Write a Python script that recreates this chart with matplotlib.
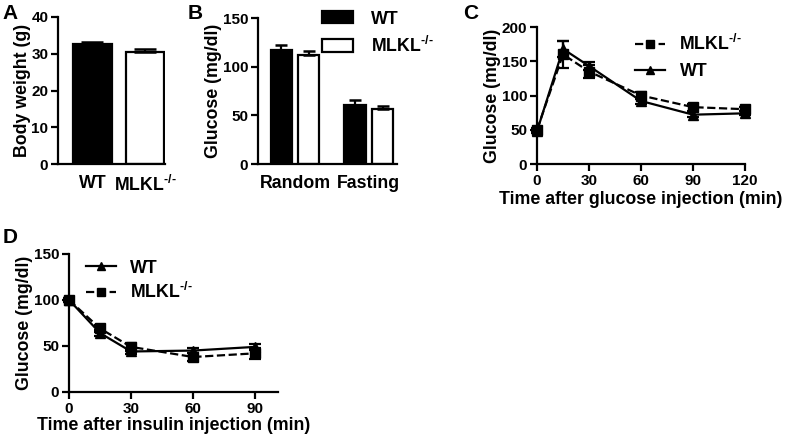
import numpy as np
import matplotlib
matplotlib.use('Agg')
import matplotlib.pyplot as plt
from matplotlib.patches import Patch
from matplotlib.lines import Line2D

plt.rcParams['font.family'] = ['Liberation Sans', 'DejaVu Sans']
plt.rcParams['font.weight'] = 'bold'
plt.rcParams['mathtext.fontset'] = 'custom'
plt.rcParams['mathtext.rm'] = 'Liberation Sans:bold'
plt.rcParams['mathtext.bf'] = 'Liberation Sans:bold'
plt.rcParams['axes.linewidth'] = 1.6

# data
groups_a = ['WT', r'MLKL$^{\text{-/-}}$']
weight = [32.7, 30.5]
weight_err = [0.6, 0.7]

groups_b = ['Random', 'Fasting']
glu_wt = [117, 61]
glu_wt_err = [5, 5]
glu_ko = [112, 57]
glu_ko_err = [4, 3]

t_gtt = [0, 15, 30, 60, 90, 120]
gtt_wt = [48, 168, 143, 92, 72, 74]
gtt_wt_err = [3, 12, 6, 4, 4, 3]
gtt_ko = [50, 160, 135, 100, 83, 80]
gtt_ko_err = [3, 20, 10, 5, 5, 3]

t_itt = [0, 15, 30, 60, 90]
itt_wt = [100, 64, 44, 45, 49]
itt_wt_err = [2, 3, 3, 3, 3]
itt_ko = [100, 69, 49, 38, 42]
itt_ko_err = [2, 4, 4, 4, 6]

KO = r'MLKL$^{\text{-/-}}$'
fs = 12.8
tfs = 11

fig = plt.figure(figsize=(7.88, 4.37), dpi=100)
ax1 = fig.add_axes([0.0736, 0.6247, 0.1358, 0.3364])
ax2 = fig.add_axes([0.3274, 0.6247, 0.1764, 0.334])
ax3 = fig.add_axes([0.6815, 0.6247, 0.264, 0.3135])
ax4 = fig.add_axes([0.0876, 0.103, 0.265, 0.316])


def style(ax):
    for s in ['top', 'right']:
        ax.spines[s].set_visible(False)
    ax.tick_params(direction='out', width=1.6, length=5, labelsize=tfs, pad=2)
    for lab in ax.get_xticklabels() + ax.get_yticklabels():
        lab.set_fontweight('bold')


# A - body weight
x = np.arange(len(groups_a))
ax1.bar(x, weight, width=0.72, color=['black', 'white'], edgecolor='black',
        linewidth=1.6, yerr=[[0, 0], weight_err],
        error_kw=dict(ecolor='black', elinewidth=1.6, capsize=8, capthick=1.8))
ax1.set_xlim(-0.65, 1.37)
ax1.set_ylim(0, 40)
ax1.set_yticks([0, 10, 20, 30, 40])
ax1.set_xticks(x)
ax1.set_xticklabels(groups_a, fontsize=fs)
ax1.set_ylabel('Body weight (g)', fontsize=fs, fontweight='bold', labelpad=0.5)
style(ax1)
ax1.tick_params(axis='x', length=0, pad=8, labelsize=fs)

# B - glucose
x = np.arange(len(groups_b))
ax2.bar(x - 0.185, glu_wt, width=0.29, color='black', edgecolor='black',
        linewidth=1.6, yerr=[[0, 0], glu_wt_err],
        error_kw=dict(ecolor='black', elinewidth=1.6, capsize=4, capthick=1.8))
ax2.bar(x + 0.185, glu_ko, width=0.29, color='white', edgecolor='black',
        linewidth=1.6, yerr=[[0, 0], glu_ko_err],
        error_kw=dict(ecolor='black', elinewidth=1.6, capsize=4, capthick=1.8))
ax2.set_xlim(-0.5, 1.38)
ax2.set_ylim(0, 150)
ax2.set_yticks([0, 50, 100, 150])
ax2.set_xticks(x)
ax2.set_xticklabels(groups_b, fontsize=fs)
ax2.set_ylabel('Glucose (mg/dl)', fontsize=fs, fontweight='bold', labelpad=0.5)
style(ax2)
ax2.tick_params(axis='x', length=0, pad=8, labelsize=fs)
handles = [Patch(facecolor='black', edgecolor='black', linewidth=1.6),
           Patch(facecolor='white', edgecolor='black', linewidth=1.6)]
ax2.legend(handles, ['WT', KO], loc='upper left', bbox_to_anchor=(0.41, 1.1),
           frameon=False, fontsize=fs, handlelength=1.75, handleheight=0.68,
           labelspacing=0.45, handletextpad=1.0, borderaxespad=0)

# C - GTT
ax3.errorbar(t_gtt, gtt_ko, yerr=gtt_ko_err, color='black', ls='--', lw=1.6,
             marker='s', ms=7, capsize=4, elinewidth=1.6, capthick=1.6)
ax3.errorbar(t_gtt, gtt_wt, yerr=gtt_wt_err, color='black', ls='-', lw=1.6,
             marker='^', ms=7, capsize=4, elinewidth=1.6, capthick=1.6)
ax3.set_xlim(0, 120)
ax3.set_ylim(0, 200)
ax3.set_xticks([0, 30, 60, 90, 120])
ax3.set_yticks([0, 50, 100, 150, 200])
ax3.set_xlabel('Time after glucose injection (min)', fontsize=fs,
               fontweight='bold', labelpad=2)
ax3.set_ylabel('Glucose (mg/dl)', fontsize=fs, fontweight='bold', labelpad=0.5)
style(ax3)
h_ko = Line2D([], [], color='black', ls='--', lw=1.6, marker='s', ms=6)
h_wt = Line2D([], [], color='black', ls='-', lw=1.6, marker='^', ms=6)
ax3.legend([h_ko, h_wt], [KO, 'WT'], loc='upper left',
           bbox_to_anchor=(0.437, 1.0), frameon=False, fontsize=fs,
           handlelength=1.7, labelspacing=0.5, handletextpad=0.8,
           borderaxespad=0)

# D - ITT
ax4.errorbar(t_itt, itt_wt, yerr=itt_wt_err, color='black', ls='-', lw=1.6,
             marker='^', ms=7, capsize=4, elinewidth=1.6, capthick=1.6)
ax4.errorbar(t_itt, itt_ko, yerr=itt_ko_err, color='black', ls='--', lw=1.6,
             marker='s', ms=7, capsize=4, elinewidth=1.6, capthick=1.6)
ax4.set_xlim(0, 101)
ax4.set_ylim(0, 150)
ax4.set_xticks([0, 30, 60, 90])
ax4.set_yticks([0, 50, 100, 150])
ax4.set_xlabel('Time after insulin injection (min)', fontsize=fs,
               fontweight='bold', labelpad=1)
ax4.set_ylabel('Glucose (mg/dl)', fontsize=fs, fontweight='bold', labelpad=0.5)
style(ax4)
ax4.legend([h_wt, h_ko], ['WT', KO], loc='upper left',
           bbox_to_anchor=(0.046, 1.01), frameon=False, fontsize=fs,
           handlelength=1.7, labelspacing=0.3, handletextpad=0.8,
           borderaxespad=0)

for a in [ax3, ax4]:
    for line in a.get_lines():
        line.set_clip_on(False)

# panel letters
fig.text(0.003, 0.991, 'A', fontsize=15, fontweight='bold', va='top')
fig.text(0.238, 0.991, 'B', fontsize=15, fontweight='bold', va='top')
fig.text(0.588, 0.991, 'C', fontsize=15, fontweight='bold', va='top')
fig.text(0.003, 0.479, 'D', fontsize=15, fontweight='bold', va='top')

fig.savefig('out.png', dpi=100)
